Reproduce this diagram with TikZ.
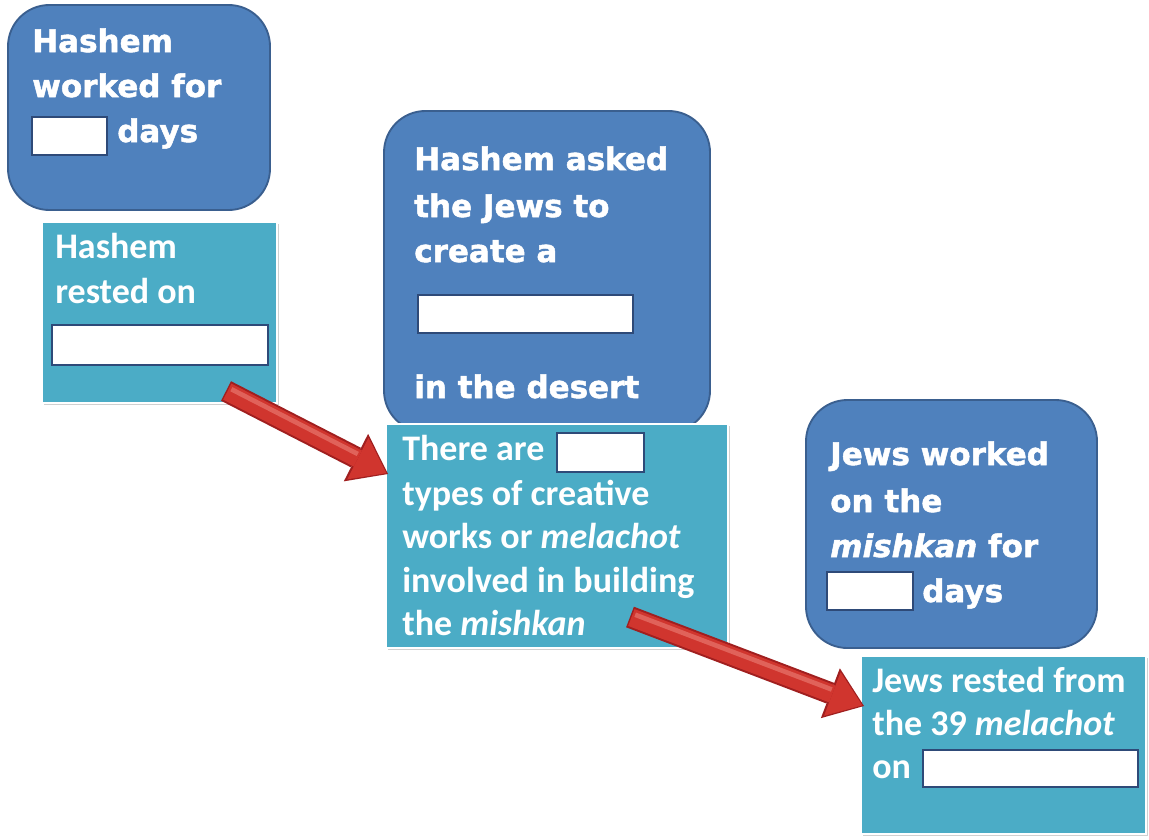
\documentclass[tikz,border=0pt]{standalone}
\usepackage{fontspec}
\usetikzlibrary{fit,arrows.meta,shadows}
\newfontfamily\blkfont{DejaVu Sans}[BoldFeatures={FakeBold=1.6}, BoldItalicFeatures={FakeBold=1.6}]
\newfontfamily\calfont{Carlito}
\definecolor{bluefill}{HTML}{4F81BD}
\definecolor{blueline}{HTML}{3A5F8F}
\definecolor{tealfill}{HTML}{4BACC6}
\definecolor{blankline}{HTML}{2E4A78}
\definecolor{arrowred}{HTML}{D0352E}
\definecolor{arrowdk}{HTML}{A01F1F}
\definecolor{arrowhl}{HTML}{E0625A}
\tikzset{
  bluebox/.style={fill=bluefill, draw=blueline, line width=1.4pt, rounded corners=31pt, inner sep=0pt},
  tealbox/.style={fill=tealfill, draw=white, line width=2.2pt, inner sep=0pt,
    drop shadow={shadow xshift=1.2pt, shadow yshift=-1.2pt, fill=black!30, opacity=.6}},
  blank/.style={fill=white, draw=blankline, line width=1.4pt, inner sep=0pt},
  btext/.style={font=\blkfont\bfseries\fontsize{23.25}{28}\selectfont, text=white, inner sep=0pt, anchor=base west},
  ttext/.style={font=\calfont\bfseries\fontsize{27}{32}\selectfont, text=white, inner sep=0pt, anchor=base west},
  arrowouter/.style={draw=arrowdk, line width=16.5pt, -{Triangle[length=27pt,width=40pt,line width=0pt]}},
  arrowinner/.style={draw=arrowred, line width=13.5pt, shorten >=1.4pt, shorten <=1.1pt, -{Triangle[length=24pt,width=35pt,line width=0pt]}},
  arrowshine/.style={draw=arrowhl, line width=3.5pt, shorten >=27pt, shorten <=3pt},
}
\begin{document}
\begin{tikzpicture}[x=0.75pt,y=-0.75pt]
\useasboundingbox[fill=white] (0,0) rectangle (1149,839);

% Box A
\node[bluebox, fit={(8,5) (270,210)}] (A) {};
\node[btext] (A1) at (32,52) {Hashem};
\node[btext] (A2) at (32,97) {worked for};
\node[blank, fit={(32,117) (107,155)}] (Ab) {};
\node[btext] (A3) at (117,142) {days};

% Box B
\node[tealbox, fit={(42,222) (277,403)}] (B) {};
\node[ttext] (B1) at (55,258) {Hashem};
\node[ttext] (B2) at (55,303) {rested on};
\node[blank, fit={(52,325) (268,365)}] (Bb) {};

% Box C
\node[bluebox, fit={(384,111) (710,432)}] (C) {};
\node[btext] (C1) at (414,170) {Hashem asked};
\node[btext] (C2) at (414,217) {the Jews to};
\node[btext] (C3) at (414,262) {create a};
\node[blank, fit={(418,295) (633,333)}] (Cb) {};
\node[btext] (C4) at (414,398) {in the desert};

% Box D
\node[tealbox, fit={(386,424) (728,648)}] (D) {};
\node[ttext] (D1) at (402,460) {There are};
\node[blank, fit={(557,433) (644,472)}] (Db) {};
\node[ttext] (D2) at (402,505) {types of creative};
\node[ttext] (D3) at (402,548) {works or \textit{melachot}};
\node[ttext] (D4) at (402,592) {involved in building};
\node[ttext] (D5) at (402,635) {the \textit{mishkan}};

% Box E
\node[bluebox, fit={(806,400) (1097,648)}] (E) {};
\node[btext] (E1) at (830,465) {Jews worked};
\node[btext] (E2) at (830,512) {on the};
\node[btext] (E3) at (830,557) {\textit{mishkan} for};
\node[blank, fit={(827,572) (913,610)}] (Eb) {};
\node[btext] (E4) at (922,602) {days};

% Box F
\node[tealbox, fit={(861,656) (1146,834)}] (F) {};
\node[ttext] (F1) at (872,692) {Jews rested from};
\node[ttext] (F2) at (872,735) {the 39 \textit{melachot}};
\node[ttext] (F3) at (872,778) {on};
\node[blank, fit={(923,750) (1138,787)}] (Fb) {};

% Arrows
\coordinate (a1s) at (226,391);
\coordinate (a1e) at (388,474);
\coordinate (a2s) at (630,617);
\coordinate (a2e) at (864,706);
\draw[arrowouter] (a1s) -- (a1e);
\draw[arrowinner] (a1s) -- (a1e);
\draw[arrowshine, transform canvas={shift={(1.8,-3.6)}}] (a1s) -- (a1e);
\draw[arrowouter] (a2s) -- (a2e);
\draw[arrowinner] (a2s) -- (a2e);
\draw[arrowshine, transform canvas={shift={(1.4,-3.7)}}] (a2s) -- (a2e);
\end{tikzpicture}
\end{document}
